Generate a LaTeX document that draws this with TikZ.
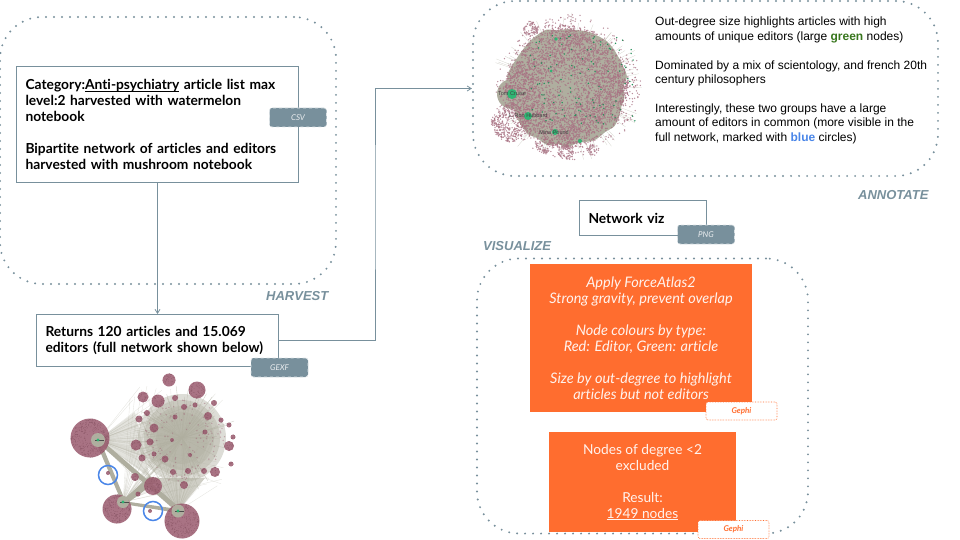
\documentclass[tikz,border=0pt]{standalone}
\usepackage{fontspec}
\setmainfont{Lato}[Ligatures=NoCommon]
\newfontfamily\arialfont{Liberation Sans}
\usetikzlibrary{arrows.meta}
\definecolor{slate}{HTML}{78909C}
\definecolor{flame}{HTML}{FF6D2F}
\definecolor{leaf}{HTML}{38761D}
\definecolor{sky}{HTML}{4A86E8}
\definecolor{hubgreen}{HTML}{2FB573}
\definecolor{edgegray}{HTML}{AFAE9F}
\definecolor{dotred}{HTML}{9A5A6E}
\newcommand{\ul}[1]{\underline{\smash{#1}}}
\tikzset{
	stage/.style={draw=slate, line width=2.2pt, line cap=round, rounded corners=42pt,
		dash pattern=on 0pt off 8pt},
	stagelabel/.style={text=slate, font=\arialfont\fontsize{13}{15}\selectfont\bfseries\itshape, inner sep=0pt},
	databox/.style={draw=slate, fill=white, line width=0.9pt, inner sep=0pt, align=left,
		font=\fontsize{13.8}{16}\selectfont\bfseries},
	tag/.style={draw=white!75!slate, dashed, fill=slate, rounded corners=2.5pt, line width=0.6pt,
		text=white!85!slate, minimum width=57pt, minimum height=19pt, inner sep=0pt,
		font=\fontsize{8}{10}\selectfont\itshape},
	toolbox/.style={fill=flame, text=white!92!flame, inner sep=0pt, align=center,
		font=\fontsize{13.7}{16}\selectfont},
	tooltag/.style={draw=flame, densely dotted, fill=white, rounded corners=2pt, line width=0.6pt,
		text=flame, minimum width=71pt, minimum height=18pt, inner sep=0pt,
		font=\fontsize{8}{10}\selectfont\bfseries\itshape},
	flow/.style={draw=slate, line width=0.8pt, -{Straight Barb[length=4pt,width=5pt]}},
	mark circle/.style={draw=sky, line width=1.5pt},
	hublabel/.style={text=black!75, inner sep=0pt, font=\arialfont\fontsize{5.5}{6}\selectfont},
}
\begin{document}
\begin{tikzpicture}[x=1pt, y=-1pt, >=latex]
	\useasboundingbox (0,0) rectangle (960,540);
	% stage outlines
	\node [stage, minimum width=336pt, minimum height=267pt] (harvest) at (168,150.5) {};
	\node [stage, minimum width=465pt, minimum height=175pt] (annotate) at (705.5,88.5) {};
	\node [stage, minimum width=331pt, minimum height=275pt] (visualize) at (642.5,396) {};
	\node [stagelabel, anchor=west] (harvestlab) at (266,296) {HARVEST};
	\node [stagelabel, anchor=west] (annotatelab) at (858,195) {ANNOTATE};
	\node [stagelabel, anchor=west] (visualizelab) at (483,246) {VISUALIZE};
	% full network, bottom left
	\pgfmathsetseed{7}
	\foreach \hx/\hy in {98/440,123/502,178/511}
		{
			\foreach \i in {1,...,40}
				{
					\draw[edgegray, opacity=0.3, line width=0.4pt] (\hx,\hy) -- ({130+rnd*95},{385+rnd*105});
				}
		}
	\foreach \i in {1,...,90}
		{
			\draw[edgegray, opacity=0.55, line width=0.4pt, shift={(182,438)}] (0,0) -- ({rnd*360}:{20+rnd*38});
		}
	\foreach \r in {44,38,32,26}
		{
			\fill[edgegray, opacity=0.42] (182,438) circle (\r);
		}
	\fill[edgegray, opacity=0.6] (178,511) -- (150,478) -- (205,478) -- cycle;
	\fill[edgegray, opacity=0.35] (98,440) -- (135,412) -- (150,478) -- cycle;
	\fill[edgegray] (98,437) -- (180,508) -- (178,513) -- (98,443) -- cycle;
	\fill[edgegray] (96,442) -- (100,440) -- (125,500) -- (122,503) -- cycle;
	\fill[edgegray] (123,500) -- (150,476) -- (156,482) -- (125,505) -- cycle;
	\fill[edgegray] (123,501) -- (178,509) -- (178,513) -- (123,504) -- cycle;
	\foreach \cx/\cy/\r/\n in {90/438/19.5/420,117/509/14.5/240,182/521/17.5/320,153/486/9/80,169/380/6.5/40,
			197/390/8.5/70,143/397/5.5/30,158/401/6.5/40,136/445/5.5/30,229/446/5/25,215/472/5/25,
			154/428/4.5/20,139/419/3.5/14,135/477/4/16,147/413/3/10,184/485/4/16,165/459/3.5/14,142/458/3.5/14,
			173/472/3/10,208/416/4/16,214/403/3/10,221/420/2.5/8,229/425/2.5/8,231/464/2.5/8,233/437/2.5/8,
			184/407/3/10,175/398/3/10,204/471/3/10,188/471/3/10,138/494/2.5/8,150/511/2/6,108/473/2/6,
			154/454/2.5/8,150/442/3.5/12,175/417/2.5/8,195/405/2.5/8,205/432/2.5/8,190/455/2/6,172/440/2/6}
		{
			\fill[dotred, opacity=0.85] (\cx,\cy) circle (\r);
			\fill[dotred!80!black, opacity=0.6] foreach \k in {1,...,\n} { ({rnd*360}:{\r*sqrt(rnd)}) ++(\cx,\cy) circle (0.35) };
		}
	\fill[dotred, opacity=0.4] foreach \k in {1,...,130} { ({rnd*360}:{44*sqrt(rnd)}) ++(182,438) circle (0.8) };
	\fill[edgegray] (98,440) circle (7);
	\fill[edgegray] (123,502) circle (6);
	\fill[edgegray] (178,511) circle (6.5);
	\foreach \hx/\hy in {98/440,123/502,178/511}
		{
			\draw[black!70, line width=0.5pt] (\hx-3,\hy) -- (\hx+6,\hy);
			\fill[hubgreen] (\hx,\hy) circle (1.6);
		}
	\draw[mark circle] (108,475) circle (9.5);
	\draw[mark circle] (153,511) circle (9.5);
	% filtered network, top right
	\pgfmathsetseed{2}
	\fill[edgegray, shift={(567,87)}] plot[domain=0:350, samples=36, smooth cycle] (\x:{56+rnd*6});
	\fill[edgegray] (512,94) circle (15);
	\foreach \i in {1,...,70}
		{
			\draw[edgegray, opacity=0.5, line width=0.3pt, shift={(567,87)}] (0,0) -- ({rnd*360}:{60+rnd*18});
		}
	% dots go in batches of 40, one long path runs out of memory
	\foreach \cx/\cy/\r/\n in {567/87/62/85,569/87/73/22,511/122/20/11,566/152/8/2,593/150/6/1,531/29/8/2,545/145/9/2}
		{
			\foreach \b in {1,...,\n}
				{
					\fill[dotred!85!white, opacity=0.8] foreach \k in {1,...,40} { ({rnd*360}:{\r*sqrt(rnd)}) ++(\cx,\cy) circle (0.75) };
				}
		}
	\foreach \i in {1,...,110}
		{
			\fill[hubgreen!80!black] ({530+rnd*105},{35+rnd*90}) circle (0.8);
		}
	\foreach \hx/\hy/\r in {512/94/5,528/116/4,555/132/3,580/141/2,556/39/1.8,551/71/1.5}
		{
			\fill[hubgreen] (\hx,\hy) circle (\r);
		}
	\node [hublabel] (cruise) at (512,94) {Tom Cruise};
	\node [hublabel] (hubbard) at (528,116) {L. Ron Hubbard};
	\node [hublabel] (pound) at (554,133) {Mina Pound};
	% process boxes
	\node [databox, text width=264pt, minimum width=282pt, minimum height=116pt] (sources) at (157.5,124.5)
		{Category:\ul{Anti-psychiatry} article list max\\level:2 harvested with watermelon\\notebook\\[16pt]Bipartite network of articles and editors\\harvested with mushroom notebook};
	\node [databox, text width=224pt, minimum width=242pt, minimum height=52pt] (returns) at (157.5,340.5)
		{Returns 120 articles and 15.069\\editors (full network shown below)};
	\node [databox, text width=109pt, minimum width=127pt, minimum height=35pt] (viz) at (643,218) {Network viz};
	\node [tag] (csv) at (298,117.5) {CSV};
	\node [tag] (gexf) at (279.5,367.5) {GEXF};
	\node [tag] (png) at (706,234.5) {PNG};
	\node [toolbox, minimum width=222pt, minimum height=148pt, font=\fontsize{14.5}{16}\selectfont\itshape] (layout) at (641,338)
		{Apply ForceAtlas2\\Strong gravity, prevent overlap\\[16pt]Node colours by type:\\Red: Editor, Green: article\\[16pt]Size by out-degree to highlight\\articles but not editors};
	\node [toolbox, minimum width=187.5pt, minimum height=100pt] (filter) at (642.5,482)
		{Nodes of degree <2\\excluded\\[16pt]Result:\\\ul{1949 nodes}};
	\node [tooltag] (gephione) at (741.5,411) {Gephi};
	\node [tooltag] (gephitwo) at (733.5,529.5) {Gephi};
	% annotation text
	\node [anchor=north west, inner sep=0pt, align=left, font=\arialfont\fontsize{12}{14.4}\selectfont] (notes) at (655,17)
		{Out-degree size highlights articles with high\\amounts of unique editors (large \textcolor{leaf}{\bfseries green} nodes)\\[14.4pt]Dominated by a mix of scientology, and french 20th\\century philosophers\\[14.4pt]Interestingly, these two groups have a large\\amount of editors in common (more visible in the\\full network, marked with \textcolor{sky}{\bfseries blue} circles)};
	% connectors
	\coordinate (bend) at (375,200);
	\draw[flow] (sources.south) -- (returns.north);
	\draw[flow] (returns.east) -| (bend) |- (annotate.west);
\end{tikzpicture}
\end{document}
